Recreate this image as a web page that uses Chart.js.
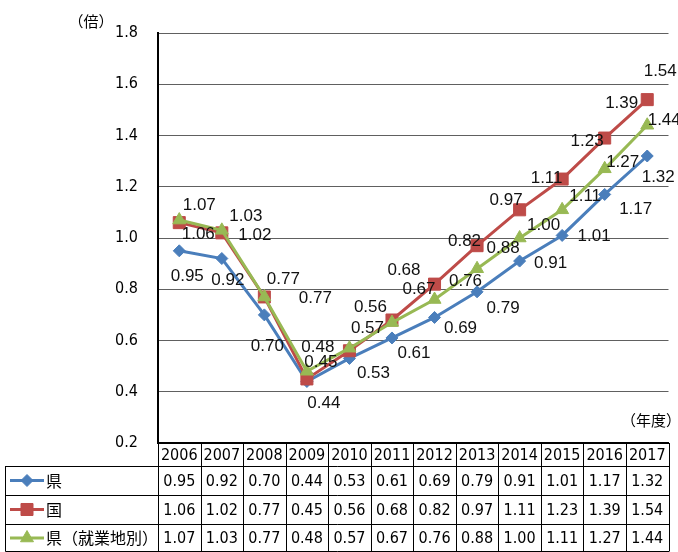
<!DOCTYPE html>
<html lang="ja">
<head>
<meta charset="utf-8">
<script src="https://cdn.jsdelivr.net/npm/chart.js@4.4.1/dist/chart.umd.min.js"></script>
<style>
  html, body { margin: 0; padding: 0; background: #fff; }
  canvas { display: block; }
</style>
</head>
<body>
<canvas id="c" width="678" height="552"></canvas>
<script>
// 有効求人倍率の推移（年度）
const years = ['2006', '2007', '2008', '2009', '2010', '2011', '2012', '2013', '2014', '2015', '2016', '2017'];
const prefValues = [0.95, 0.92, 0.70, 0.44, 0.53, 0.61, 0.69, 0.79, 0.91, 1.01, 1.17, 1.32];
const nationalValues = [1.06, 1.02, 0.77, 0.45, 0.56, 0.68, 0.82, 0.97, 1.11, 1.23, 1.39, 1.54];
const prefWorkplaceValues = [1.07, 1.03, 0.77, 0.48, 0.57, 0.67, 0.76, 0.88, 1.00, 1.11, 1.27, 1.44];
const seriesNames = ['県', '国', '県（就業地別）'];
const yUnitLabel = '（倍）';
const xUnitLabel = '（年度）';
const yMin = 0.2, yMax = 1.8, yStep = 0.2;

// label placement relative to each point (px)
const prefLabelShift = [[8,25],[6,22],[3,31],[17,22],[24,15],[22,15],[26,11],[26,16],[31,2],[32,1],[31,15],[11,21]];
const nationalLabelShift = [[19,12],[33,2],[51,1],[14,-17],[21,-43],[12,-50],[30,-43],[29,-45],[27,-32],[25,-38],[17,-35],[13,-28]];
const workplaceLabelShift = [[20,-15],[24,-14],[19,-18],[11,-24],[18,-20],[27,-33],[31,-18],[26,-20],[24,-13],[23,-14],[18,-7],[17,-5]];

const BLUE = '#4a7ebb', RED = '#be4b48', GREEN = '#98b954';
const NUM_FONT = '"Liberation Sans Narrow", "DejaVu Sans Condensed", "Liberation Sans", sans-serif';
const LABEL_FONT = '"Liberation Sans", Arial, sans-serif';
const JP_FONT = '"Noto Sans CJK JP", "Noto Sans", sans-serif';

const TABLE_H = 109;   // height reserved under the plot for the data table
const LEGEND_LEFT = 5.5;
const HEADER_H = 23;
const ROW_H = [29, 29, 28];

const shifts = [prefLabelShift, nationalLabelShift, workplaceLabelShift];

const pointLabels = {
  id: 'pointLabels',
  afterDatasetsDraw(chart) {
    const ctx = chart.ctx;
    ctx.save();
    ctx.font = '17px ' + LABEL_FONT;
    ctx.fillStyle = '#111';
    ctx.textAlign = 'center';
    ctx.textBaseline = 'middle';
    chart.data.datasets.forEach((ds, di) => {
      const meta = chart.getDatasetMeta(di);
      meta.data.forEach((pt, i) => {
        const s = shifts[di][i];
        ctx.fillText(ds.data[i].toFixed(2), pt.x + s[0], pt.y + s[1]);
      });
    });
    ctx.restore();
  }
};

function drawSwatch(ctx, ds, x0, x1, y) {
  ctx.save();
  ctx.strokeStyle = ds.borderColor;
  ctx.lineWidth = 3;
  ctx.beginPath();
  ctx.moveTo(x0, y);
  ctx.lineTo(x1, y);
  ctx.stroke();
  ctx.fillStyle = ds.pointBackgroundColor;
  ctx.strokeStyle = ds.pointBorderColor;
  ctx.lineWidth = 1;
  Chart.helpers.drawPoint(ctx, {
    pointStyle: ds.pointStyle, radius: ds.pointRadius, rotation: 0, borderWidth: 1
  }, (x0 + x1) / 2, y);
  ctx.restore();
}

const dataTable = {
  id: 'dataTable',
  afterDraw(chart) {
    const ctx = chart.ctx;
    const xs = chart.scales.x;
    const area = chart.chartArea;
    const left = area.left, right = area.right;
    const top = area.bottom;
    const n = years.length;
    const colW = (right - left) / n;
    const headerBottom = top + HEADER_H;
    const rowTops = [headerBottom];
    ROW_H.forEach(h => rowTops.push(rowTops[rowTops.length - 1] + h));
    const bottom = Math.min(rowTops[rowTops.length - 1], chart.height - 0.5);

    ctx.save();
    ctx.strokeStyle = '#000';
    ctx.lineWidth = 1;
    ctx.beginPath();
    // column separators
    for (let i = 0; i <= n; i++) {
      const x = Math.round(left + i * colW) + 0.5;
      ctx.moveTo(x, top);
      ctx.lineTo(x, bottom);
    }
    // legend column left edge
    ctx.moveTo(LEGEND_LEFT, headerBottom);
    ctx.lineTo(LEGEND_LEFT, bottom);
    // row lines
    rowTops.forEach((y, k) => {
      const yy = Math.round(Math.min(y, chart.height - 1)) + 0.5;
      ctx.moveTo(LEGEND_LEFT, yy);
      ctx.lineTo(right + 0.5, yy);
    });
    ctx.stroke();

    // year header
    ctx.fillStyle = '#000';
    ctx.textAlign = 'center';
    ctx.textBaseline = 'middle';
    ctx.font = '16px ' + NUM_FONT;
    years.forEach((yr, i) => {
      ctx.fillText(yr, xs.getPixelForValue(i), top + HEADER_H / 2 + 1);
    });

    // series rows
    chart.data.datasets.forEach((ds, di) => {
      const yc = (rowTops[di] + rowTops[di + 1]) / 2 + 1;
      drawSwatch(ctx, ds, 10, 44, yc - 1);
      ctx.fillStyle = '#000';
      ctx.textAlign = 'left';
      ctx.font = '16px ' + JP_FONT;
      ctx.fillText(seriesNames[di], 46, yc - 1);
      ctx.textAlign = 'center';
      ctx.font = '16px ' + NUM_FONT;
      ds.data.forEach((v, i) => {
        ctx.fillText(v.toFixed(2), xs.getPixelForValue(i), yc);
      });
    });

    // unit captions
    ctx.font = '15px ' + JP_FONT;
    ctx.textAlign = 'center';
    ctx.fillText(yUnitLabel, 91, 21);
    ctx.fillText(xUnitLabel, 651, 420);
    ctx.restore();
  }
};

function series(label, values, color, style, radius, order) {
  return {
    label,
    data: values,
    borderColor: color,
    backgroundColor: color,
    borderWidth: 3,
    pointStyle: style,
    pointRadius: radius,
    pointBackgroundColor: color,
    pointBorderColor: color,
    pointBorderWidth: 1,
    tension: 0,
    order
  };
}

new Chart(document.getElementById('c'), {
  type: 'line',
  data: {
    labels: years,
    datasets: [
      series(seriesNames[0], prefValues, BLUE, 'rectRot', 6, 3),
      series(seriesNames[1], nationalValues, RED, 'rect', 8.5, 2),
      series(seriesNames[2], prefWorkplaceValues, GREEN, 'triangle', 7.5, 1)
    ]
  },
  options: {
    responsive: false,
    animation: false,
    layout: { padding: { left: 0, right: 8, top: 33, bottom: 0 } },
    plugins: {
      legend: { display: false },
      tooltip: { enabled: false },
      title: { display: false }
    },
    scales: {
      x: {
        offset: true,
        grid: { display: false, drawTicks: false },
        border: { display: true, color: '#000', width: 2 },
        ticks: { display: false },
        afterFit(scale) { scale.height = TABLE_H; }
      },
      y: {
        min: yMin,
        max: yMax,
        ticks: {
          stepSize: yStep,
          padding: 20,
          color: '#000',
          font: { family: NUM_FONT, size: 16 },
          callback: v => Number(v).toFixed(1)
        },
        grid: { color: '#606060', lineWidth: 1, drawTicks: false },
        border: { display: true, color: '#000', width: 2 },
        afterFit(scale) { scale.width = 158; }
      }
    }
  },
  plugins: [pointLabels, dataTable]
});
</script>
</body>
</html>
